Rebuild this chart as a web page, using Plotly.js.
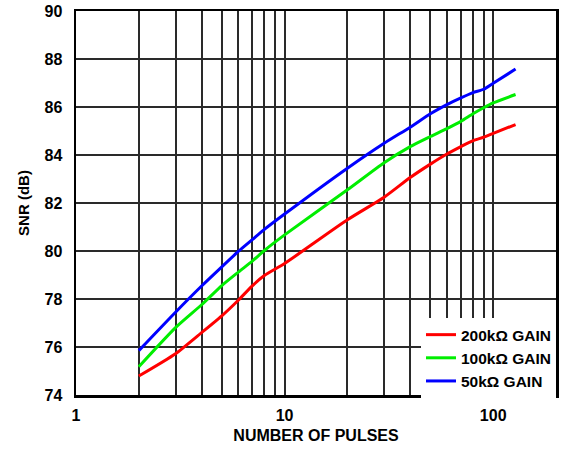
<!DOCTYPE html>
<html>
<head>
<meta charset="utf-8">
<script src="https://cdn.plot.ly/plotly-3.0.1.min.js"></script>
<style>html,body{margin:0;padding:0;background:#fff;}#chart{width:564px;height:452px;}</style>
</head>
<body>
<div id="chart"></div>
<script>
const pulses = [2, 3, 4, 5, 6, 7, 8, 10, 20, 30, 40, 50, 60, 70, 80, 90, 100, 128];
const snr200k = [74.79, 75.72, 76.6, 77.3, 77.95, 78.55, 78.98, 79.48, 81.3, 82.24, 83.06, 83.62, 84.04, 84.35, 84.6, 84.74, 84.9, 85.27];
const snr100k = [75.18, 76.81, 77.76, 78.56, 79.12, 79.58, 80.02, 80.67, 82.55, 83.68, 84.35, 84.77, 85.1, 85.4, 85.72, 85.97, 86.17, 86.52];
const snr50k  = [75.85, 77.45, 78.54, 79.34, 79.98, 80.47, 80.9, 81.54, 83.45, 84.49, 85.16, 85.72, 86.1, 86.38, 86.6, 86.74, 86.99, 87.58];
const seriesNames = ["200kΩ GAIN", "100kΩ GAIN", "50kΩ GAIN"];
const seriesColors = ["#ff0000", "#00ee00", "#0000ff"];
const xGridVals = [1,2,3,4,5,6,7,8,9,10,20,30,40,50,60,70,80,90,100,200];
const xLabelVals = [1, 10, 100];
const yTicks = [74, 76, 78, 80, 82, 84, 86, 88, 90];

const font = {family: "Liberation Sans, Arial, sans-serif", color: "#000", weight: "bold"};
const seriesData = [snr200k, snr100k, snr50k];
const traces = seriesData.map((ys, i) => ({
  x: pulses, y: ys, type: "scatter", mode: "lines", name: seriesNames[i],
  line: {color: seriesColors[i], width: 3, shape: "spline", smoothing: 0.6}
}));

const layout = {
  width: 564, height: 452,
  margin: {l: 76, r: 8, t: 11, b: 57},
  paper_bgcolor: "#fff", plot_bgcolor: "#fff",
  showlegend: true,
  legend: {x: 1, xanchor: "right", y: -0.008, yanchor: "bottom", bgcolor: "#fff",
    borderwidth: 0, font: Object.assign({}, font, {size: 15.5}), tracegroupgap: 0,
    itemwidth: 30},
  xaxis: {
    type: "log", range: [0, Math.log10(200)],
    tickmode: "array", tickvals: xGridVals,
    ticktext: xGridVals.map(v => xLabelVals.includes(v) ? String(v) : ""),
    showgrid: true, gridcolor: "#2a2a2a", gridwidth: 2,
    showline: true, linecolor: "#000", linewidth: 2.5, mirror: true,
    zeroline: false, ticks: "", ticklabelstandoff: 4,
    tickfont: Object.assign({}, font, {size: 16}),
    title: {text: "NUMBER OF PULSES", font: Object.assign({}, font, {size: 16}), standoff: 7}
  },
  yaxis: {
    range: [74, 90], tickmode: "array", tickvals: yTicks,
    showgrid: true, gridcolor: "#2a2a2a", gridwidth: 2,
    showline: true, linecolor: "#000", linewidth: 2.5, mirror: true,
    zeroline: false, ticks: "", ticklabelstandoff: 8,
    tickfont: Object.assign({}, font, {size: 16}),
    title: {text: "SNR (dB)", font: Object.assign({}, font, {size: 15}), standoff: 12}
  }
};
Plotly.newPlot("chart", traces, layout, {displayModeBar: false, staticPlot: true});
</script>
</body>
</html>
